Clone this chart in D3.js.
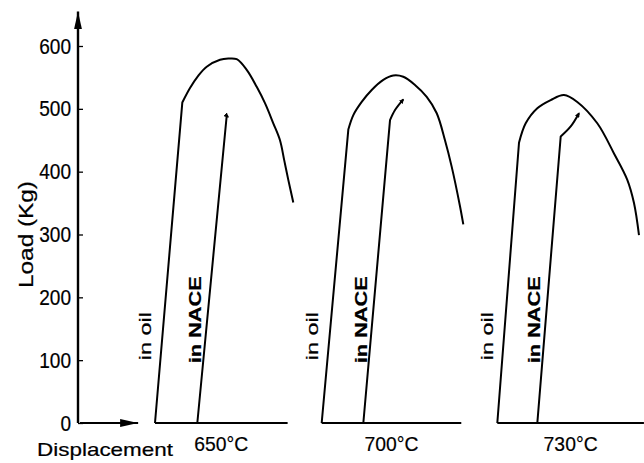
<!DOCTYPE html>
<html>
<head>
<meta charset="utf-8">
<script src="https://cdn.jsdelivr.net/npm/d3@7"></script>
<style>
  body { margin: 0; background: #fff; }
  text { font-family: "Liberation Sans", Arial, sans-serif; fill: #000; stroke: #000; stroke-width: 0.2px; }
</style>
</head>
<body>
<div id="canvas"></div>
<script>
var width = 644,
	height = 463;

// load values (Kg) against displacement (arbitrary units)
var temps = ["650°C", "700°C", "730°C"];
var loadTicks = [0, 100, 200, 300, 400, 500, 600];

var oil650 = [[13.7,0],[18.56,510],[19.93,533],[21.35,552],[22.9,567],[25.27,578],[26.74,580],[28.24,579],[30.02,562],[31.8,535],[33.27,509],[34.75,477],[35.94,450],[36.7,418],[37.42,387],[38.31,351]];
var nace650 = [[21.23,0],[26.46,489],[26.7,487]];

var oil700 = [[43.36,0],[48.1,467],[48.99,490],[50.48,511],[52.26,530],[54.32,546],[56.1,553],[57.88,551],[59.96,538],[62.05,519],[63.83,493],[65.3,450],[66.49,408],[67.97,345],[68.56,316]];
var nace700 = [[50.77,0],[55.52,482],[56.41,498],[57.88,515]];

var oil730 = [[74.61,0],[78.47,446],[79.66,477],[81.73,501],[84.11,514],[86.48,522],[88.84,511],[92.4,477],[95.37,429],[97.74,387],[98.93,350],[99.82,299]];
var nace730 = [[81.73,0],[85.89,456],[87.67,472],[89.15,493]];

// where each test's zero-load line ends
var baseEnd = [37.3, 68.2, 100.7];

var panels = [
	{temp: temps[0], oil: oil650, nace: nace650, end: baseEnd[0]},
	{temp: temps[1], oil: oil700, nace: nace700, end: baseEnd[1]},
	{temp: temps[2], oil: oil730, nace: nace730, end: baseEnd[2]}
];

var x = d3.scaleLinear().domain([0, 100]).range([78, 640]);
var y = d3.scaleLinear().domain([0, 600]).range([423, 46]);

var svg = d3.select("#canvas").append("svg")
	.attr("width", width)
	.attr("height", height)
	.style("background-color", "#fff")

var defs = svg.append("defs");
defs.append("marker")
	.attr("id", "tip")
	.attr("viewBox", "0 0 18 8")
	.attr("refX", 18).attr("refY", 4)
	.attr("markerWidth", 18).attr("markerHeight", 8)
	.attr("markerUnits", "userSpaceOnUse")
	.attr("orient", "auto")
	.append("path").attr("d", "M0,0 L18,4 L0,8 Z");
defs.append("marker")
	.attr("id", "hook")
	.attr("viewBox", "0 0 5 5")
	.attr("refX", 4).attr("refY", 2.5)
	.attr("markerWidth", 5).attr("markerHeight", 5)
	.attr("markerUnits", "userSpaceOnUse")
	.attr("orient", "auto")
	.append("path").attr("d", "M0,0 L5,2.5 L0,5 Z");

// y axis: ticks point inward, line drawn by hand with an arrow
var yAxis = svg.append("g")
	.attr("transform", "translate(" + x(0) + ",0)")
	.call(d3.axisLeft(y).tickValues(loadTicks).tickSize(-5).tickPadding(7));
yAxis.select(".domain").remove();
yAxis.selectAll(".tick line").attr("stroke", "#000").attr("stroke-width", 1.3);
yAxis.selectAll(".tick text")
	.style("font-size", "22px")
	.attr("fill", "#000")
	.attr("textLength", function(d){ return String(d).length * 10.6; })
	.attr("lengthAdjust", "spacingAndGlyphs");

svg.append("line")
	.attr("x1", x(0)).attr("y1", y(0))
	.attr("x2", x(0)).attr("y2", y(655))
	.attr("stroke", "#000").attr("stroke-width", 2.4)
	.attr("marker-end", "url(#tip)");

svg.append("line")
	.attr("x1", x(0) + 2).attr("y1", y(0))
	.attr("x2", x(10.7)).attr("y2", y(0))
	.attr("stroke", "#000").attr("stroke-width", 1.8)
	.attr("marker-end", "url(#tip)");

svg.append("text")
	.attr("transform", "translate(33," + y(300) + ") rotate(-90)")
	.attr("text-anchor", "middle")
	.style("font-size", "20px")
	.attr("textLength", 107)
	.attr("lengthAdjust", "spacingAndGlyphs")
	.text("Load  (Kg)");

svg.append("text")
	.attr("x", 37).attr("y", 456)
	.style("font-size", "19px")
	.attr("textLength", 136)
	.attr("lengthAdjust", "spacingAndGlyphs")
	.text("Displacement");

var straight = d3.line()
	.x(function(d){ return x(d[0]); })
	.y(function(d){ return y(d[1]); });
var smooth = d3.line()
	.x(function(d){ return x(d[0]); })
	.y(function(d){ return y(d[1]); })
	.curve(d3.curveCatmullRom.alpha(0.5));

// x position of a line's elastic part at a given load
function along(series, load){
	var a = series[0], b = series[1];
	return x(a[0] + (b[0] - a[0]) * load / b[1]);
}

var panel = svg.selectAll(".panel")
	.data(panels)
	.enter()
	.append("g")
	.classed("panel", true);

panel.append("path")
	.attr("d", function(p){ return straight([p.oil[0], [p.end, 0]]); })
	.attr("fill", "none").attr("stroke", "#000").attr("stroke-width", 2);

panel.append("path")
	.attr("d", function(p){ return straight(p.oil.slice(0, 2)) + smooth(p.oil.slice(1)).replace(/^M/, "L"); })
	.attr("fill", "none").attr("stroke", "#000").attr("stroke-width", 2)
	.attr("stroke-linejoin", "round");

panel.append("path")
	.attr("d", function(p){ return straight(p.nace.slice(0, 2)) + smooth(p.nace.slice(1)).replace(/^M/, "L"); })
	.attr("fill", "none").attr("stroke", "#000").attr("stroke-width", 2)
	.attr("stroke-linejoin", "round")
	.attr("marker-end", "url(#hook)");

panel.append("text")
	.attr("transform", function(p){ return "translate(" + (along(p.oil, 100) - 9) + "," + y(100) + ") rotate(-90)"; })
	.style("font-size", "16px")
	.attr("textLength", 48)
	.attr("lengthAdjust", "spacingAndGlyphs")
	.text("in oil");

panel.append("text")
	.attr("transform", function(p){ return "translate(" + (along(p.nace, 95) - 2) + "," + y(95) + ") rotate(-90)"; })
	.style("font-size", "16px")
	.style("font-weight", "bold")
	.attr("textLength", 87)
	.attr("lengthAdjust", "spacingAndGlyphs")
	.text("in NACE");

panel.append("text")
	.attr("x", function(p){ return (x(p.oil[0][0]) + x(p.end)) / 2; })
	.attr("y", 451)
	.attr("text-anchor", "middle")
	.style("font-size", "21px")
	.attr("textLength", 54)
	.attr("lengthAdjust", "spacingAndGlyphs")
	.text(function(p){ return p.temp; });
</script>
</body>
</html>
